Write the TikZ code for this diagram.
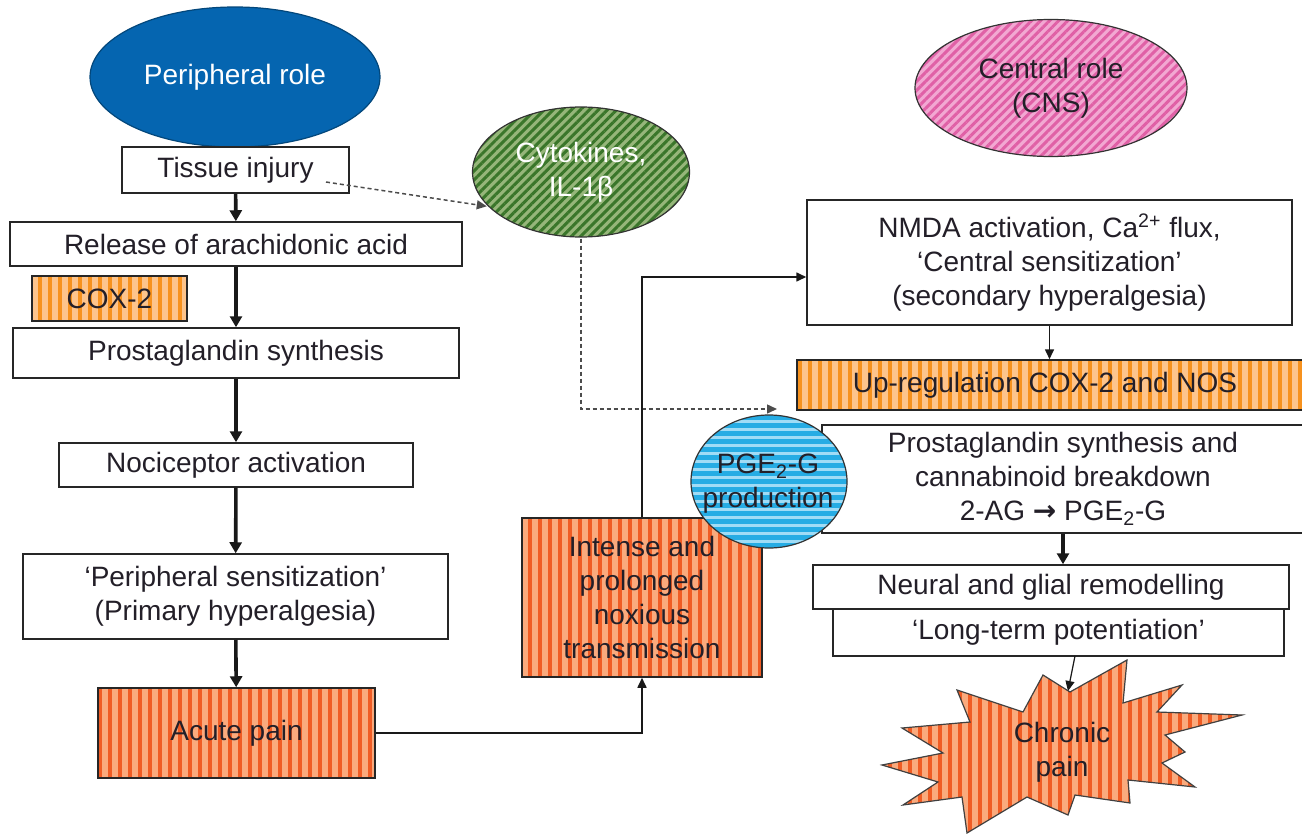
\documentclass[tikz,border=0pt]{standalone}
\usepackage{fontspec}
\setmainfont{Liberation Sans}
\newfontfamily\dejavu{DejaVu Sans}
\usetikzlibrary{patterns.meta,arrows.meta,shapes.geometric}
\definecolor{pblue}{RGB}{5,101,176}
\definecolor{txt}{RGB}{35,31,40}
\definecolor{orL}{RGB}{253,196,140}
\definecolor{orD}{RGB}{247,146,30}
\definecolor{rdL}{RGB}{250,170,125}
\definecolor{rdD}{RGB}{240,92,36}
\definecolor{grL}{RGB}{150,182,122}
\definecolor{grD}{RGB}{58,118,42}
\definecolor{pkL}{RGB}{242,168,210}
\definecolor{pkD}{RGB}{224,96,166}
\definecolor{cyL}{RGB}{160,220,246}
\definecolor{cyD}{RGB}{38,172,228}
\begin{document}
\begin{tikzpicture}[x=0.5pt,y=-0.5pt,
  font=\fontsize{14}{17}\selectfont,
  every node/.style={text=txt},
  box/.style={draw=black!85, line width=0.75pt, fill=white, inner sep=0pt, align=center},
  vstripe/.style 2 args={preaction={fill=#1}, pattern={Lines[angle=90,distance=5pt,line width=2.4pt]}, pattern color=#2},
  dstripe/.style 2 args={preaction={fill=#1}, pattern={Lines[angle=45,distance=3.2pt,line width=1.5pt]}, pattern color=#2},
  hstripe/.style 2 args={fill=#1, path picture={
      \foreach \k in {-20,...,20}{\fill[#2] ([yshift=\k*4pt-1pt]path picture bounding box.west) ++(-5pt,0) rectangle ++(100pt,2.2pt);}}},
  oval/.style={ellipse, draw=black!80, line width=0.6pt, inner sep=0pt, align=center},
  thickarr/.style={draw=black!90, line width=1.8pt, -{Triangle[length=5.5pt,width=6pt]}},
  thinarr/.style={draw=black!90, line width=0.8pt, -{Triangle[length=5pt,width=4.5pt]}},
  dasharr/.style={draw=black!70, line width=0.75pt, dash pattern=on 2pt off 1.5pt, -{Triangle[length=5pt,width=4.5pt]}}
]
\useasboundingbox (0,0) rectangle (1302,835);

% ---------- left column ----------
\node[oval, fill=pblue, draw=pblue!70!black, minimum width=145pt, minimum height=70pt, text=white] (per) at (235,77) {Peripheral role};
\node[box, minimum width=113.5pt, minimum height=23pt] (tissue) at (235.5,170) {Tissue injury};
\node[box, minimum width=226pt, minimum height=22pt] (release) at (236,244) {Release of arachidonic acid};
\node[box, vstripe={orL}{orD}, minimum width=77.5pt, minimum height=22.5pt] (cox) at (109.5,298.5) {COX-2};
\node[box, minimum width=223pt, minimum height=25pt] (prost) at (236,353) {Prostaglandin synthesis};
\node[box, minimum width=177pt, minimum height=22pt] (noci) at (236,465) {Nociceptor activation};
\node[box, minimum width=212.5pt, minimum height=42.5pt] (psens) at (235.5,596.5) {‘Peripheral sensitization’\\(Primary hyperalgesia)};
\node[box, vstripe={rdL}{rdD}, minimum width=138.5pt, minimum height=45pt] (acute) at (236.5,733) {Acute pain};

\draw[thickarr] (tissue) -- (release);
\draw[thickarr] (release) -- (prost);
\draw[thickarr] (prost) -- (noci);
\draw[thickarr] (noci) -- (psens);
\draw[thickarr] (psens) -- (acute);

% ---------- cytokines ----------
\node[oval, dstripe={grL}{grD}, minimum width=108.5pt, minimum height=65pt, text=white] (cyt) at (581,172) {Cytokines,\\IL-1β};
\coordinate (tstart) at (326,182);
\draw[dasharr] (tstart) -- (cyt.200);

% ---------- central column ----------
\node[oval, dstripe={pkL}{pkD}, minimum width=136pt, minimum height=68.5pt] (central) at (1051,88) {Central role\\(CNS)};
\node[box, minimum width=242.5pt, minimum height=62.5pt] (nmda) at (1049.5,262.5) {NMDA activation, Ca\textsuperscript{2+} flux,\\‘Central sensitization’\\(secondary hyperalgesia)};
\node[box, vstripe={orL}{orD}, minimum width=260pt, minimum height=25pt] (upreg) at (1057,385) {};
\node (upregtext) at (1045,385) {Up-regulation COX-2 and NOS};
\draw[thinarr] (nmda.south) -- (nmda.south |- upreg.north);

\node[box, minimum width=249pt, minimum height=54pt] (prostR) at (1071,479) {};
\node[align=center] (prostRtext) at (1063,479) {Prostaglandin synthesis and\\cannabinoid breakdown\\2-AG {\dejavu\bfseries →} PGE\textsubscript{2}-G};

\node[box, vstripe={rdL}{rdD}, minimum width=120pt, minimum height=79.5pt] (intense) at (642,597.5) {Intense and\\prolonged\\noxious\\transmission};

\node[oval, hstripe={cyL}{cyD}, minimum width=78pt, minimum height=66.5pt] (pge) at (769,481.5) {};
\node[align=center] (pgetext) at (768,484) {PGE\textsubscript{2}-G\\production};

\coordinate (pgein) at (777,409);
\draw[dasharr] (cyt.south) |- (pgein);

\draw[thinarr] (acute.east) -| (intense.south);
\draw[thinarr] (intense.north) |- ([yshift=-7.25pt]nmda.west);

\node[box, minimum width=238pt, minimum height=22pt] (neural) at (1051,587) {Neural and glial remodelling};
\node[box, minimum width=225.5pt, minimum height=23.5pt] (ltp) at (1058.5,632.5) {‘Long-term potentiation’};
\draw[thickarr] (prostRtext.south |- prostR.south) -- (prostRtext.south |- neural.north);

% ---------- chronic pain starburst ----------
\draw[vstripe={rdL}{rdD}, draw=black!75, line width=0.6pt, line join=miter]
  (1127,660) -- (1123,703) -- (1182,685) -- (1157,712) -- (1242,715) -- (1165,735)
  -- (1185,752) -- (1162,763) -- (1195,787) -- (1128,780) -- (1130,803) -- (1075,795)
  -- (1068,815) -- (1027,797) -- (967,833) -- (962,797) -- (903,805) -- (938,782)
  -- (882,765) -- (943,753) -- (902,728) -- (970,722) -- (957,690) -- (1023,712)
  -- (1043,675) -- (1070,692) -- cycle;
\node[align=center] (chronic) at (1062,752) {Chronic\\pain};
\coordinate (ltpout) at (1075,656);
\coordinate (chrtop) at (1068,691);
\draw[draw=black!90, line width=0.6pt, -{Triangle[length=5pt,width=4.5pt]}] (ltpout) -- (chrtop);
\end{tikzpicture}
\end{document}
